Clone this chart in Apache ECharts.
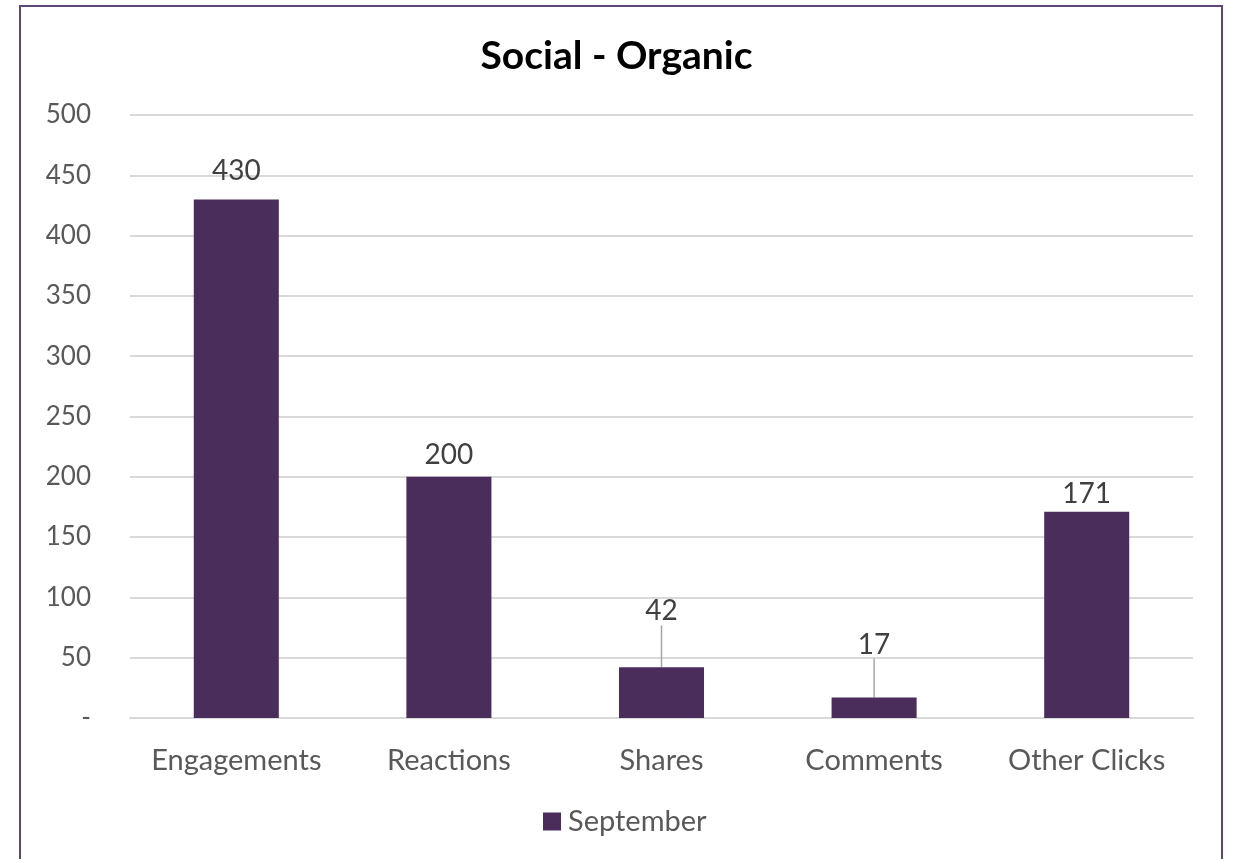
<!DOCTYPE html>
<html>
<head>
<meta charset="utf-8">
<script src="https://cdn.jsdelivr.net/npm/echarts@6/dist/echarts.min.js"></script>
<style>
html,body{margin:0;padding:0;background:#fff;}
#chart{width:1233px;height:859px;}
</style>
</head>
<body>
<div id="chart"></div>
<script>
const categories = ['Engagements', 'Reactions', 'Shares', 'Comments', 'Other Clicks'];
const septemberValues = [430, 200, 42, 17, 171];
const seriesName = 'September';
const yTicks = [0, 50, 100, 150, 200, 250, 300, 350, 400, 450, 500];
const titleText = 'Social - Organic';
// label vertical shifts and leader-line flags (styling)
const labelShift = [-6, 0, -34, -31, 4];
const leaderLine = [false, false, true, true, false];

const chart = echarts.init(document.getElementById('chart'));
const font = 'Lato, "Open Sans", sans-serif';
chart.setOption({
  animation: false,
  title: {
    text: titleText,
    left: 'center',
    top: 32,
    textStyle: {fontFamily: font, fontSize: 39, fontWeight: 'bold', color: '#000'}
  },
  graphic: [{
    type: 'rect',
    shape: {x: 20, y: 6, width: 1202, height: 900},
    style: {fill: 'none', stroke: '#5E4777', lineWidth: 2},
    silent: true
  }],
  legend: {
    bottom: 18,
    left: 538,
    icon: 'rect',
    itemWidth: 18,
    itemHeight: 18,
    itemGap: 8,
    textStyle: {fontFamily: font, fontSize: 29, color: '#595959', padding: [0, 0, 0, 2]},
    data: [seriesName]
  },
  grid: {left: 130, right: 40, top: 115, bottom: 141, containLabel: false},
  xAxis: {
    type: 'category',
    data: categories,
    axisLine: {show: true, lineStyle: {color: '#d9d9d9', width: 2}},
    axisTick: {show: false},
    axisLabel: {fontFamily: font, fontSize: 29, color: '#595959', margin: 28, interval: 0, hideOverlap: false}
  },
  yAxis: {
    type: 'value',
    min: yTicks[0],
    max: yTicks[yTicks.length - 1],
    interval: 50,
    axisLine: {show: false},
    axisTick: {show: false},
    splitLine: {lineStyle: {color: '#d9d9d9', width: 2}},
    axisLabel: {
      fontFamily: font, fontSize: 26, color: '#595959', margin: 39,
      formatter: v => v === 0 ? '-' : String(v)
    }
  },
  series: [{
    name: seriesName,
    type: 'bar',
    data: septemberValues.map((v, i) => ({value: v, labelLine: {show: leaderLine[i]}})),
    barWidth: '40%',
    itemStyle: {color: '#4B2D5C'},
    label: {
      show: true,
      position: 'top',
      distance: 8,
      fontFamily: font,
      fontSize: 28,
      color: '#404040'
    },
    labelLine: {show: true, lineStyle: {color: '#a6a6a6', width: 1.5}},
    labelLayout: function (params) {
      return {dy: labelShift[params.dataIndex]};
    }
  }]
});
</script>
</body>
</html>
